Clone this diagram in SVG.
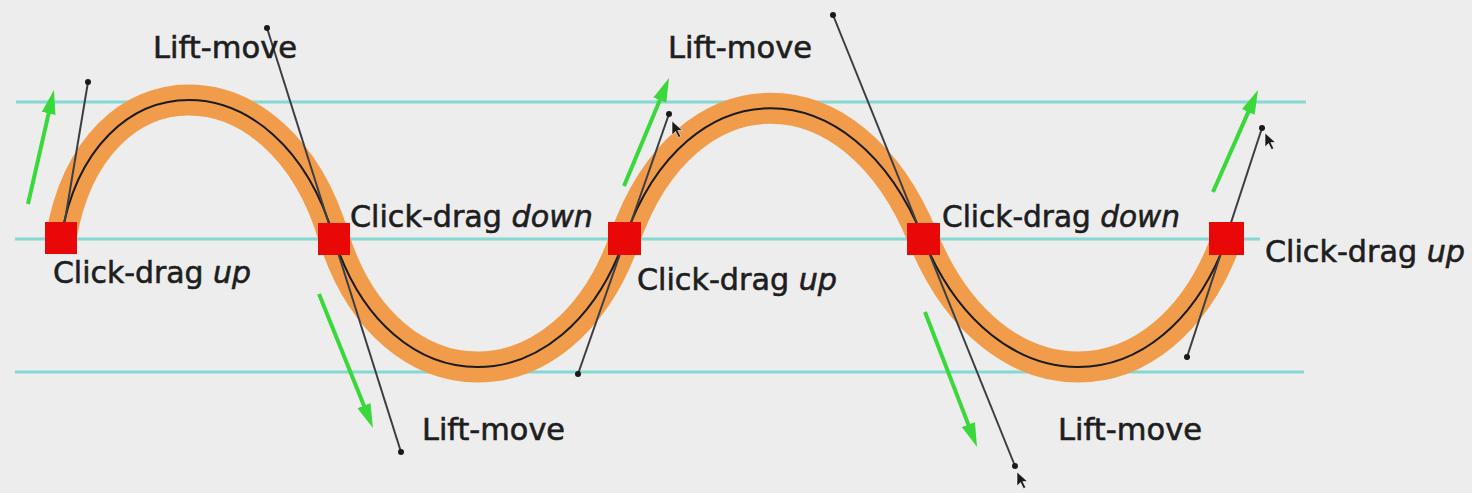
<svg xmlns="http://www.w3.org/2000/svg" width="1472" height="493" viewBox="0 0 1472 493">
  <style>
    .guide { stroke: #86d8d2; stroke-width: 3; fill: none; }
    .band { stroke: #f09c4a; stroke-width: 31; fill: none; stroke-linecap: butt; }
    .path { stroke: #1a1a1a; stroke-width: 2; fill: none; }
    .handle { stroke: #3d3d45; stroke-width: 2; fill: none; }
    .dot { fill: #1a1a1a; }
    .arrow { stroke: #3ad83a; stroke-width: 4; fill: none; marker-end: url(#ah); }
    .node { fill: #e80808; }
    .lbl { font-family: "DejaVu Sans", Verdana, sans-serif; font-size: 30px; fill: #1e1e1e; stroke: #1e1e1e; stroke-width: 0.6; }
    .it { font-style: italic; }
    .cur { fill: #1a1a1a; stroke: #ffffff; stroke-width: 0.6; }
  </style>
  <defs>
    <marker id="ah" viewBox="0 0 24 14" markerUnits="userSpaceOnUse" markerWidth="24" markerHeight="14" refX="7" refY="7" orient="auto">
      <path d="M0,0 L24,7 L0,14 z" fill="#3ad83a"/>
    </marker>
    <path id="cursor" d="M0,0 L0,14 L3.5,10.5 L6.5,16.5 L8.8,15.4 L5.8,9.5 L10.5,9.5 z"/>
  </defs>
  <rect x="0" y="0" width="1472" height="493" fill="#ededed"/>

  <g id="guides">
    <line class="guide" x1="16" y1="102" x2="1306" y2="102"/>
    <line class="guide" x1="15" y1="239" x2="1260" y2="239"/>
    <line class="guide" x1="15" y1="372" x2="1304" y2="372"/>
  </g>

  <g id="stroke">
    <path class="band" d="M61,238 C92,54 280,54 334,238 C389,410 565,410 625,238 C686,65 853,65 923,238 C993,410 1165,410 1227,238"/>
    <path class="path" d="M61,238 C92,54 280,54 334,238 C389,410 565,410 625,238 C686,65 853,65 923,238 C993,410 1165,410 1227,238"/>
  </g>

  <g id="connectors">
    <g id="handles">
      <line class="handle" x1="62" y1="238" x2="88" y2="82"/>
      <circle class="dot" cx="88" cy="82" r="3"/>
      <line class="handle" x1="267" y1="28" x2="401" y2="452"/>
      <circle class="dot" cx="267" cy="28" r="3"/>
      <circle class="dot" cx="401" cy="452" r="3"/>
      <line class="handle" x1="578" y1="374" x2="669" y2="114"/>
      <circle class="dot" cx="578" cy="374" r="3"/>
      <circle class="dot" cx="669" cy="114" r="3"/>
      <use href="#cursor" class="cur" transform="translate(672,121)"/>
      <line class="handle" x1="833" y1="15" x2="1015" y2="466"/>
      <circle class="dot" cx="833" cy="15" r="3"/>
      <circle class="dot" cx="1015" cy="466" r="3"/>
      <use href="#cursor" class="cur" transform="translate(1017,472)"/>
      <line class="handle" x1="1187" y1="357" x2="1262" y2="128"/>
      <circle class="dot" cx="1187" cy="357" r="3"/>
      <circle class="dot" cx="1262" cy="128" r="3"/>
      <use href="#cursor" class="cur" transform="translate(1265,133)"/>
    </g>
    <g id="arrows">
      <line class="arrow" x1="28" y1="204" x2="50.2" y2="106.6"/>
      <line class="arrow" x1="319" y1="294" x2="366.6" y2="412.2"/>
      <line class="arrow" x1="624" y1="186" x2="662.5" y2="93.7"/>
      <line class="arrow" x1="925" y1="312" x2="970.9" y2="431.1"/>
      <line class="arrow" x1="1213" y1="192" x2="1251.1" y2="105.6"/>
    </g>
  </g>

  <g id="node1">
    <rect class="node" x="45" y="222" width="32" height="32"/>
    <text class="lbl" x="53" y="283" textLength="198" lengthAdjust="spacingAndGlyphs">Click-drag <tspan class="it">up</tspan></text>
  </g>
  <g id="node2">
    <rect class="node" x="318" y="223" width="32" height="32"/>
    <text class="lbl" x="350" y="227" textLength="243" lengthAdjust="spacingAndGlyphs">Click-drag <tspan class="it">down</tspan></text>
  </g>
  <g id="node3">
    <rect class="node" x="608" y="222" width="33" height="33"/>
    <text class="lbl" x="637" y="290" textLength="200" lengthAdjust="spacingAndGlyphs">Click-drag <tspan class="it">up</tspan></text>
  </g>
  <g id="node4">
    <rect class="node" x="907" y="223" width="33" height="32"/>
    <text class="lbl" x="942" y="227" textLength="238" lengthAdjust="spacingAndGlyphs">Click-drag <tspan class="it">down</tspan></text>
  </g>
  <g id="node5">
    <rect class="node" x="1209" y="222" width="35" height="33"/>
    <text class="lbl" x="1265" y="262" textLength="200" lengthAdjust="spacingAndGlyphs">Click-drag <tspan class="it">up</tspan></text>
  </g>

  <g id="lift-labels">
    <text class="lbl" x="153" y="58" textLength="144" lengthAdjust="spacingAndGlyphs">Lift-move</text>
    <text class="lbl" x="668" y="58" textLength="144" lengthAdjust="spacingAndGlyphs">Lift-move</text>
    <text class="lbl" x="422" y="440" textLength="143" lengthAdjust="spacingAndGlyphs">Lift-move</text>
    <text class="lbl" x="1058" y="440" textLength="144" lengthAdjust="spacingAndGlyphs">Lift-move</text>
  </g>
</svg>
